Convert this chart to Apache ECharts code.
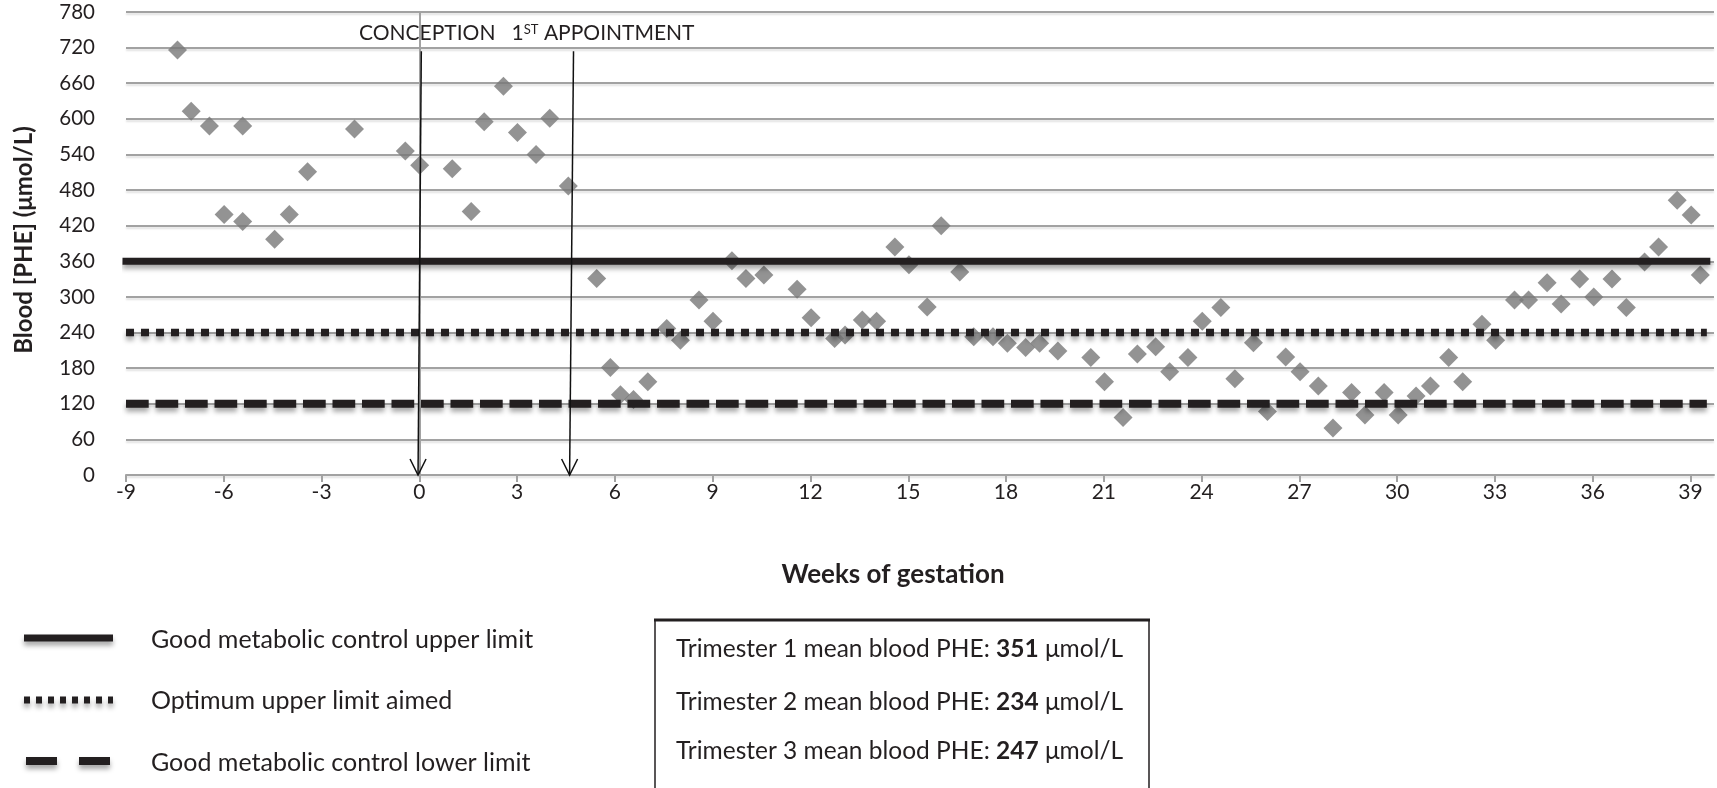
<!DOCTYPE html>
<html>
<head>
<meta charset="utf-8">
<script src="https://cdn.jsdelivr.net/npm/echarts@6/dist/echarts.min.js"></script>
<style>
  html, body { margin: 0; padding: 0; background: #fff; }
  #chart { width: 1717px; height: 788px; }
</style>
</head>
<body>
<div id="chart"></div>
<script>
// Blood phenylalanine measurements across pregnancy (weeks relative to conception)
const weeks = [-7.42, -7.0, -6.44, -5.99, -5.42, -5.42, -4.44, -3.99, -3.43, -1.99,
  -0.43, 0.01, 1.01, 1.59, 1.99, 2.58, 3.01, 3.58, 4.0, 4.57,
  5.44, 5.86, 6.17, 6.57, 7.01, 7.59, 8.01, 8.58, 9.01, 9.59,
  10.02, 10.57, 11.59, 12.02, 12.74, 13.06, 13.59, 14.03, 14.59, 15.02,
  15.58, 16.01, 16.58, 17.01, 17.6, 18.04, 18.6, 19.03, 19.59, 20.6,
  21.02, 21.59, 22.03, 22.59, 23.02, 23.58, 24.02, 24.59, 25.02, 25.59,
  26.02, 26.58, 27.02, 27.58, 28.03, 28.6, 29.01, 29.6, 30.03, 30.58,
  31.02, 31.58, 32.01, 32.6, 33.02, 33.6, 34.03, 34.6, 35.03, 35.6,
  36.03, 36.59, 37.03, 37.59, 38.02, 38.59, 39.02, 39.3];
const phe = [716, 613, 588, 439, 588, 427, 397, 439, 511, 583,
  546, 522, 516, 444, 595, 655, 577, 540, 601, 487,
  331, 181, 135, 127, 157, 247, 227, 295, 259, 361,
  331, 337, 313, 265, 230, 236, 261, 259, 384, 354,
  283, 420, 342, 233, 233, 222, 215, 222, 209, 198,
  157, 97, 204, 216, 174, 198, 259, 282, 162, 223,
  107, 199, 174, 150, 79, 139, 101, 139, 101, 133,
  150, 198, 157, 254, 227, 295, 295, 324, 288, 330,
  300, 330, 282, 359, 384, 463, 438, 337];

// Axis tick labels
const xTickWeeks = [-9, -6, -3, 0, 3, 6, 9, 12, 15, 18, 21, 24, 27, 30, 33, 36, 39];
const yTickValues = [0, 60, 120, 180, 240, 300, 360, 420, 480, 540, 600, 660, 720, 780];

// Target limits (µmol/L) and the span they are drawn over
const upperLimit = 360;
const optimumLimit = 240;
const lowerLimit = 120;
const limitWeeks = [-9, 39.5];

// Event arrows: top of the shaft and where the head lands on the axis
const arrowTopWeeks = [0.06, 4.73];
const arrowBaseWeeks = [-0.04, 4.61];
const arrowTopValue = 714;

// Legend and summary texts
const legendLabels = ['Good metabolic control upper limit', 'Optimum upper limit aimed', 'Good metabolic control lower limit'];
const trimesterMeans = [351, 234, 247];

const INK = '#231f20';
const GRID = '#a2a2a2';
const FONT = 'Lato';
const lineShadow = { shadowColor: 'rgba(0,0,0,0.35)', shadowBlur: 5, shadowOffsetY: 4 };

function limitSeries(value, style) {
  return {
    type: 'line',
    data: limitWeeks.map(w => [w, value]),
    showSymbol: false,
    silent: true,
    z: 4,
    lineStyle: Object.assign({ color: INK }, lineShadow, style)
  };
}

const chart = echarts.init(document.getElementById('chart'), null, { renderer: 'canvas' });

chart.setOption({
  animation: false,
  backgroundColor: '#fff',
  grid: { left: 126, right: 3, top: 12, bottom: 313, outerBoundsMode: 'none' },
  xAxis: {
    type: 'value',
    min: -9,
    max: 39.72,
    interval: 3,
    axisLine: { show: true, onZero: false, lineStyle: { color: GRID, width: 2 } },
    axisTick: { show: true, length: 7, customValues: xTickWeeks, lineStyle: { color: GRID, width: 2 } },
    axisLabel: { customValues: xTickWeeks, margin: 7, color: INK, fontFamily: FONT, fontSize: 21 },
    splitLine: { show: false }
  },
  yAxis: {
    type: 'value',
    min: 0,
    max: 780,
    interval: 60,
    axisLine: { show: true, lineStyle: { color: GRID, width: 2 } },
    axisTick: { show: true, length: 7, customValues: yTickValues, lineStyle: { color: GRID, width: 2 } },
    axisLabel: { customValues: yTickValues, margin: 31, color: INK, fontFamily: FONT, fontSize: 20.5 },
    splitLine: { show: true, lineStyle: { color: GRID, width: 2, shadowColor: 'rgba(0,0,0,0.12)', shadowOffsetY: 2, shadowBlur: 2 } }
  },
  series: [
    {
      type: 'scatter',
      data: weeks.map((w, i) => [w, phe[i]]),
      symbol: 'diamond',
      symbolSize: 19,
      itemStyle: { color: '#787878' },
      z: 3
    },
    limitSeries(upperLimit, { width: 7, cap: 'square' }),
    limitSeries(optimumLimit, { width: 7.5, type: [8, 7] }),
    limitSeries(lowerLimit, { width: 8, type: [22.7, 6.8] }),
    {
      type: 'custom',
      silent: true,
      z: 6,
      data: arrowTopWeeks.map((w, i) => [w, arrowTopValue, arrowBaseWeeks[i]]),
      renderItem(params, api) {
        const top = api.coord([api.value(0), api.value(1)]);
        const tip = api.coord([api.value(2), 0]);
        return {
          type: 'group',
          children: [
            { type: 'line', shape: { x1: top[0], y1: top[1], x2: tip[0], y2: tip[1] },
              style: { stroke: '#111', lineWidth: 1.5 } },
            { type: 'polyline', shape: { points: [[tip[0] - 8, tip[1] - 16], [tip[0], tip[1]], [tip[0] + 8, tip[1] - 16]] },
              style: { stroke: '#111', fill: null, lineWidth: 1.5 } }
          ]
        };
      }
    }
  ],
  graphic: [
    // y axis title
    { type: 'text', x: 24, y: 240, rotation: Math.PI / 2, z: 10,
      style: { text: 'Blood [PHE] (μmol/L)', fill: INK, font: 'bold 24px Lato', align: 'center', verticalAlign: 'middle' } },
    // event captions above the arrows
    { type: 'text', left: 359, top: 23, z: 10,
      style: { text: 'CONCEPTION   1{sup|ST} APPOINTMENT', fill: INK, font: '21px Lato',
        rich: { sup: { fontSize: 13, fontFamily: FONT, fill: INK, verticalAlign: 'top', padding: [0, 0, 8, 0] } } } },
    // x axis title
    { type: 'text', x: 893, y: 575, z: 10,
      style: { text: 'Weeks of gestation', fill: INK, font: 'bold 26px Lato', align: 'center', verticalAlign: 'middle' } },
    // legend samples
    { type: 'line', shape: { x1: 24, y1: 638, x2: 113, y2: 638 },
      style: Object.assign({ stroke: INK, lineWidth: 7 }, lineShadow) },
    { type: 'line', shape: { x1: 24, y1: 700, x2: 113, y2: 700 },
      style: Object.assign({ stroke: INK, lineWidth: 7, lineDash: [6, 6] }, lineShadow) },
    { type: 'line', shape: { x1: 26, y1: 761, x2: 110, y2: 761 },
      style: Object.assign({ stroke: INK, lineWidth: 8, lineDash: [31, 22] }, lineShadow) },
    ...legendLabels.map((t, i) => ({
      type: 'text', x: 151, y: [640, 701, 763][i],
      style: { text: t, fill: INK, font: '25px Lato', verticalAlign: 'middle' }
    })),
    // summary box
    { type: 'rect', shape: { x: 655, y: 620, width: 494, height: 220 },
      style: { stroke: INK, lineWidth: 1.5, fill: null } },
    { type: 'line', shape: { x1: 654, y1: 620, x2: 1150, y2: 620 },
      style: { stroke: INK, lineWidth: 3 } },
    ...trimesterMeans.map((m, i) => ({
      type: 'text', x: 676, y: [649, 702, 751][i],
      style: {
        text: 'Trimester ' + (i + 1) + ' mean blood PHE: {b|' + m + '} μmol/L',
        fill: INK, font: '24.5px Lato', verticalAlign: 'middle',
        rich: { b: { fontWeight: 'bold', fontSize: 24.5, fontFamily: FONT, fill: INK } }
      }
    }))
  ]
});
</script>
</body>
</html>
